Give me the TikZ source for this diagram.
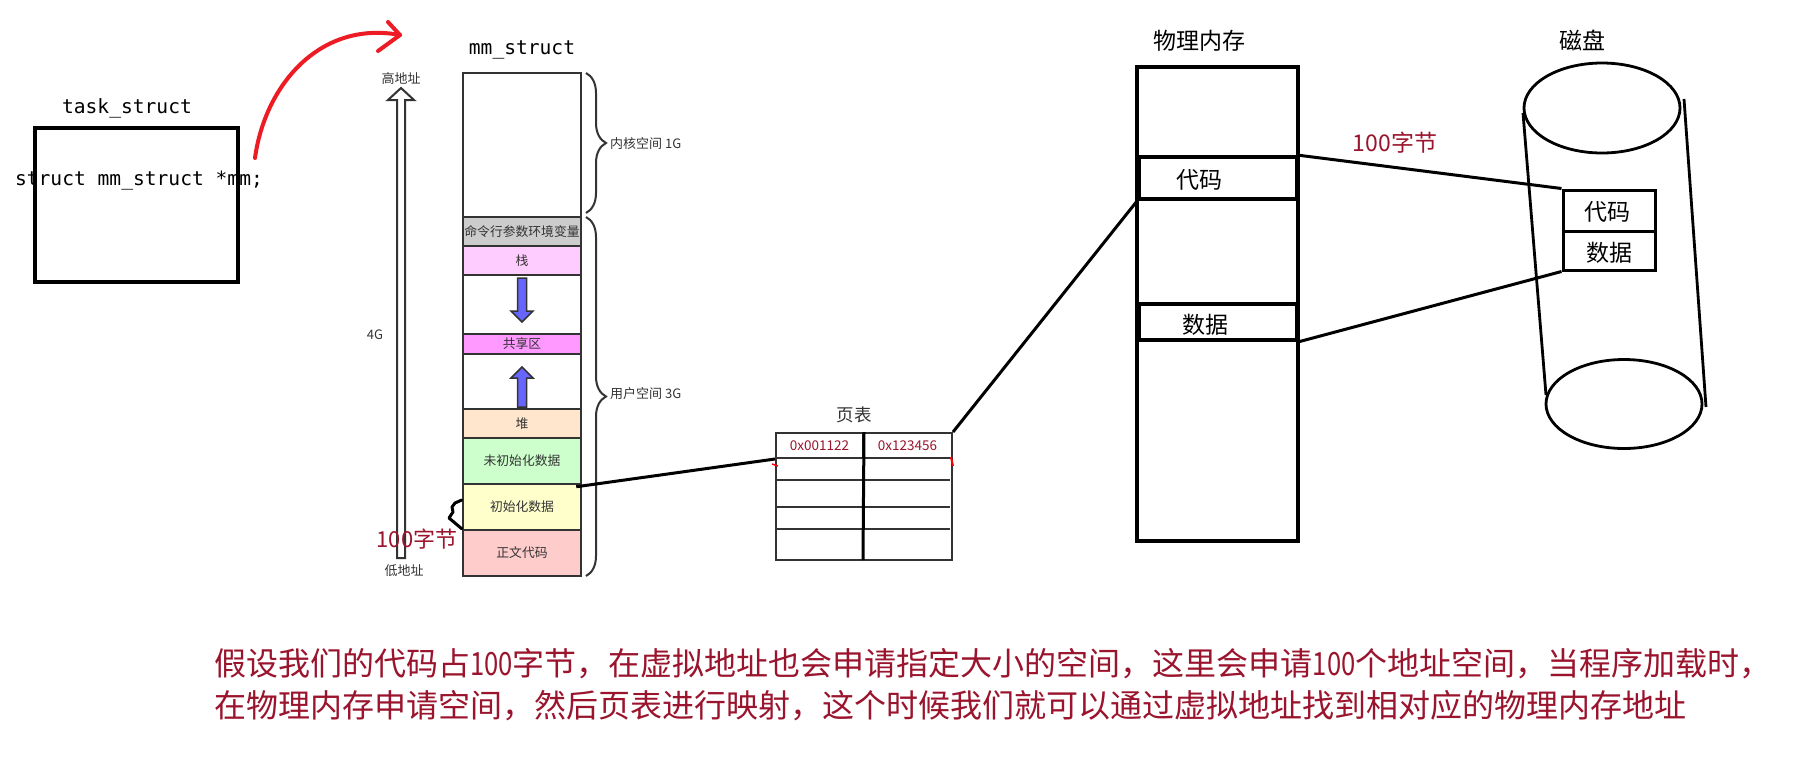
\documentclass[tikz,border=0pt]{standalone}
\usepackage{fontspec}
\setmainfont{Noto Sans CJK SC}
\newfontfamily\monofont{DejaVu Sans Mono}
\usetikzlibrary{decorations.pathreplacing,calc}
\newcommand\narrowdig[1]{\scalebox{0.8}[1]{#1}}
\definecolor{dk}{RGB}{51,51,51}
\definecolor{arrred}{RGB}{237,28,36}
\definecolor{txtred}{RGB}{155,20,45}
\definecolor{cmdc}{RGB}{204,204,204}
\definecolor{stackc}{RGB}{255,204,255}
\definecolor{sharec}{RGB}{255,153,255}
\definecolor{heapc}{RGB}{255,230,204}
\definecolor{bssc}{RGB}{204,255,204}
\definecolor{datac}{RGB}{255,255,204}
\definecolor{textc}{RGB}{255,204,204}
\definecolor{bluec}{RGB}{102,102,255}
\tikzset{
  lbl/.style={inner sep=0pt, text=dk, font=\fontsize{13}{15}\selectfont},
  mono/.style={inner sep=0pt, font=\monofont\fontsize{19.6}{22}\selectfont},
  band/.style={draw=dk, line width=2.5pt, minimum width=118pt, inner sep=0pt, text=dk,
    font=\fontsize{12.8}{15}\selectfont},
  big/.style={inner sep=0pt, font=\fontsize{23}{26}\selectfont},
  cell/.style={draw=black, line width=3.5pt, minimum width=158pt, inner sep=0pt},
  dcell/.style={draw=black, line width=3pt, minimum width=92pt, minimum height=40pt, inner sep=0pt},
  link/.style={draw=black, line width=3pt},
  hollow/.style={draw=dk, line width=2pt, fill=white},
  bluearr/.style={draw=dk, line width=1.5pt, fill=bluec},
  brc/.style={draw=dk, line width=2pt, decorate, decoration={brace, amplitude=20pt}},
  redtxt/.style={inner sep=0pt, text=txtred},
}
\begin{document}
\begin{tikzpicture}[x=1pt,y=-1pt]
\useasboundingbox[fill=white] (0,0) rectangle (1801,756);

% ---------------- task_struct ----------------
\node[mono] (tasklbl) at (127,108) {task\_struct};
\node[draw=black, line width=3.3pt, minimum width=203pt, minimum height=154pt, inner sep=0pt] (task) at (136.5,205) {};
\node[mono] (mmptr) at (139,181) {struct mm\_struct *mm;};
\coordinate (redstart) at (255,158);
\coordinate (redend) at (400,35);
\draw[arrred, line width=4pt, line cap=round] (redstart) .. controls (265,85) and (320,20) .. (redend);
\draw[arrred, line width=4pt, line cap=round, line join=round] (388,22) -- (redend) -- (378,51);

% ---------------- address arrow ----------------
\node[lbl] (hi) at (401,79) {高地址};
\node[lbl] (lo) at (404,571) {低地址};
\node[lbl] (g4) at (375,335) {4G};
\draw[hollow, line join=miter] (397,558) -- (397,100) -- (388,100) -- (401,88) -- (414,100) -- (405,100) -- (405,558) -- cycle;

% ---------------- mm_struct ----------------
\node[mono] (mmlbl) at (522,50) {mm\_struct};
\node[band, minimum height=144pt] (kern) at (522,145) {};
\node[band, fill=cmdc, minimum height=29pt] (cmd) at (522,231.5) {命令行参数环境变量};
\node[band, fill=stackc, minimum height=29pt] (stack) at (522,260.5) {栈};
\node[band, minimum height=59pt] (gap1) at (522,304.5) {};
\node[band, fill=sharec, minimum height=20pt] (share) at (522,344) {共享区};
\node[band, minimum height=55pt] (gap2) at (522,381.5) {};
\node[band, fill=heapc, minimum height=29pt] (heap) at (522,423.5) {堆};
\node[band, fill=bssc, minimum height=46pt] (bss) at (522,461) {未初始化数据};
\node[band, fill=datac, minimum height=46pt] (data) at (522,507) {初始化数据};
\node[band, fill=textc, minimum height=46pt] (text) at (522,553) {正文代码};

\draw[bluearr, line join=miter] (517.5,278) -- (526.5,278) -- (526.5,311) -- (533,311) -- (522,322) -- (511,311) -- (517.5,311) -- cycle;
\draw[bluearr, line join=miter] (517.5,407) -- (526.5,407) -- (526.5,378) -- (533,378) -- (522,367) -- (511,378) -- (517.5,378) -- cycle;

\draw[brc] (586,73) -- (586,213);
\draw[brc] (586,217) -- (586,576);
\node[lbl, anchor=west] (kspace) at (610,144) {内核空间 1G};
\node[lbl, anchor=west] (uspace) at (610,394) {用户空间 3G};

\node[redtxt, font=\fontsize{22}{24}\selectfont] (hb1) at (417,539) {100字节};
\draw[black, line width=3pt, line join=round, line cap=round] (data.west) ++(0,-7) -- (455,503) -- (452,507) -- (453,512) -- (449,518) -- (455,523) -- (text.north west);

% ---------------- page table ----------------
\node[inner sep=0pt, font=\fontsize{17.5}{20}\selectfont, text=dk] (ptlbl) at (854,415) {页表};
\node[draw=dk, line width=2pt, minimum width=87pt, minimum height=25pt, inner sep=0pt,
      text=txtred, font=\fontsize{13.5}{15}\selectfont] (c11) at (819.5,445.5) {0x001122};
\node[draw=dk, line width=2pt, minimum width=89pt, minimum height=25pt, inner sep=0pt,
      text=txtred, font=\fontsize{13.5}{15}\selectfont] (c12) at (907.5,445.5) {0x123456};
\node[draw=dk, line width=2pt, minimum width=176pt, minimum height=102pt, inner sep=0pt] (ptbody) at (864,509) {};
\draw[dk, line width=2pt] (776,480) -- (950,480);
\draw[dk, line width=2pt] (776,507) -- (950,507);
\draw[dk, line width=2pt] (776,529) -- (950,529);
\draw[black, line width=3pt] (c11.north east) -- (863,560);
\draw[red, line width=1.5pt] (772,464) -- (778,466);
\draw[red, line width=2pt] (951,457) -- (953,466);

\draw[link] ([shift={(-6,4)}]data.north east) -- (c11.south west);

% ---------------- physical memory ----------------
\node[big] (physlbl) at (1199,41) {物理内存};
\node[draw=black, line width=3.5pt, minimum width=161pt, minimum height=474pt, inner sep=0pt] (phys) at (1217.5,304) {};
\node[cell, minimum height=42pt] (pcode) at (1218,178) {};
\node[big] at (1199,180) {代码};
\node[cell, minimum height=36pt] (pdata) at (1218,322) {};
\node[big] at (1205,325) {数据};

\draw[link] (c12.north east) -- (pcode.south west);

% ---------------- disk ----------------
\node[big] (disklbl) at (1582,40) {磁盘};
\draw[black, line width=2.8pt] (1602,108) ellipse [x radius=78, y radius=45];
\draw[black, line width=2.8pt] (1624,404) ellipse [x radius=78, y radius=44.5];
\draw[black, line width=2.8pt] (1523,113) -- (1546,395);
\draw[black, line width=2.8pt] (1684,99) -- (1706,407);
\node[dcell, fill=white, minimum height=41pt] (dcode) at (1609,210.5) {};
\node[big] at (1607,212) {代码};
\node[dcell, fill=white, minimum height=39pt] (ddata) at (1609,250.5) {};
\node[big] at (1609,253) {数据};

\node[redtxt, font=\fontsize{23}{26}\selectfont] (hb2) at (1395,143) {100字节};

\draw[link] (pcode.north east) -- (dcode.north west);
\draw[link] (pdata.south east) -- (ddata.south west);

% ---------------- bottom text ----------------
\node[redtxt, anchor=west, font=\fontsize{32}{36}\selectfont] (note1) at (214,664) {假设我们的代码占\narrowdig{100}字节，在虚拟地址也会申请指定大小的空间，这里会申请\narrowdig{100}个地址空间，当程序加载时，};
\node[redtxt, anchor=west, font=\fontsize{32}{36}\selectfont] (note2) at (214,706) {在物理内存申请空间，然后页表进行映射，这个时候我们就可以通过虚拟地址找到相对应的物理内存地址};
\end{tikzpicture}
\end{document}
